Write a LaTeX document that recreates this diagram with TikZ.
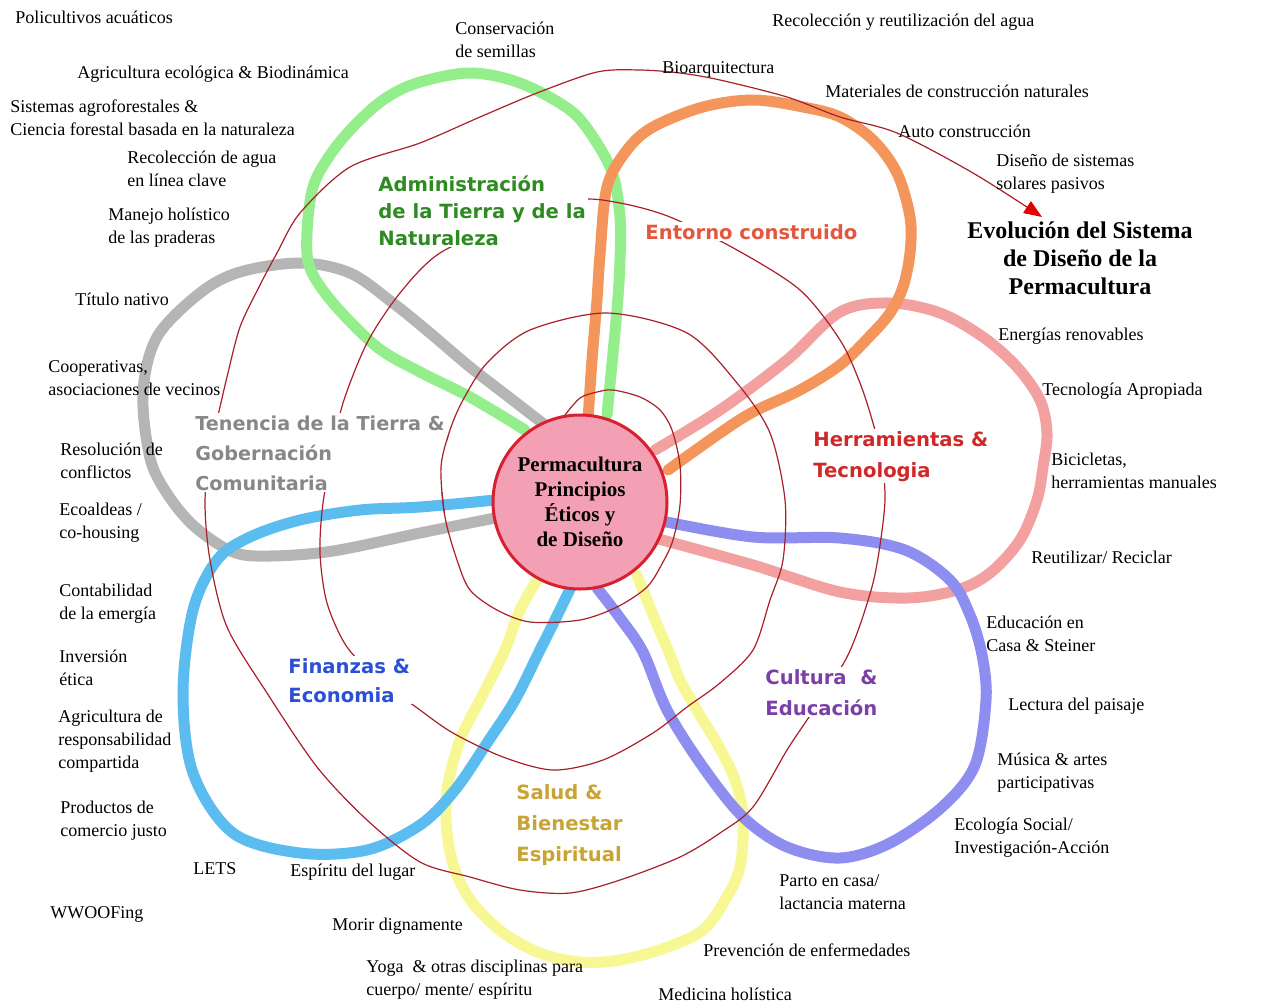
\documentclass[tikz,border=0pt]{standalone}
\usepackage{fontspec}
\setmainfont{Liberation Serif}
\newfontfamily\catfont{DejaVu Sans}
\usetikzlibrary{arrows.meta}
\definecolor{pgreen}{HTML}{94EE8C}
\definecolor{porange}{HTML}{F4955C}
\definecolor{ppink}{HTML}{F2A0A0}
\definecolor{ppurple}{HTML}{8E8EF0}
\definecolor{pyellow}{HTML}{F7F794}
\definecolor{pblue}{HTML}{5BBCF0}
\definecolor{pgrey}{HTML}{B5B5B5}
\definecolor{spiral}{HTML}{A8202A}
\definecolor{tgreen}{HTML}{2E8B22}
\definecolor{torange}{HTML}{E2583E}
\definecolor{tred}{HTML}{D02828}
\definecolor{tgrey}{HTML}{878787}
\definecolor{tblue}{HTML}{2B4FD6}
\definecolor{tpurple}{HTML}{7B40A8}
\definecolor{tyellow}{HTML}{C8A434}
\definecolor{cfill}{HTML}{F4A0B4}
\definecolor{cborder}{HTML}{D82030}
\begin{document}
\begin{tikzpicture}[x=0.5pt,y=-0.5pt,
  lbl/.style={anchor=base west, inner sep=0pt, align=left, font=\fontsize{9}{11.5}\selectfont},
  cat/.style={anchor=base west, inner sep=1pt, fill=white, align=left},
  petal/.style={line width=5.5pt, line cap=round, line join=round},
  spiralline/.style={spiral, line width=0.6pt}]
\fill[white] (0,0) rectangle (1267,1007);
\path[use as bounding box] (0,0) rectangle (1267,1007);

% petals
\draw[petal, pyellow] plot[smooth, tension=0.55] coordinates {(540,575) (520,610) (505,650) (480,700) (460,740) (447,790) (447,833) (455,870) (472,902) (502,932) (540,953) (580,962) (620,960) (665,948) (703,930) (725,900) (740,867) (743,817) (735,780) (718,745) (698,712) (680,680) (668,650) (653,615) (637,575)};
\draw[petal, ppink] plot[smooth, tension=0.55] coordinates {(655,450) (720,410) (787,360) (840,312) (890,303) (940,313) (983,337) (1017,367) (1040,400) (1047,433) (1043,467) (1037,500) (1020,540) (990,573) (957,590) (907,598) (840,592) (753,565) (655,538)};
\draw[petal, ppurple] plot[smooth, tension=0.55] coordinates {(662,521) (753,537) (840,538) (905,550) (950,580) (970,615) (982,655) (986,700) (975,765) (942,807) (890,843) (840,858) (787,847) (743,817) (703,767) (667,710) (643,652) (620,618) (597,588)};
\draw[petal, pgrey] plot[smooth, tension=0.55] coordinates {(495,518) (420,533) (333,551) (270,556) (233,552) (195,527) (168,495) (150,458) (143,393) (157,337) (200,293) (240,272) (300,263) (350,273) (393,303) (430,333) (470,367) (510,398) (545,425)};
\draw[petal, pblue] plot[smooth, tension=0.55] coordinates {(572,585) (555,620) (540,650) (515,700) (487,743) (455,790) (420,825) (367,850) (300,853) (233,833) (193,773) (183,693) (193,610) (217,560) (250,537) (300,520) (360,510) (420,507) (495,500)};
\draw[petal, pgreen] plot[smooth, tension=0.55] coordinates {(525,430) (470,397) (420,372) (377,347) (333,303) (310,268) (307,233) (313,187) (330,155) (353,127) (383,100) (417,83) (470,73) (520,83) (570,110) (595,140) (613,175) (620,217) (620,260) (617,310) (607,415)};
\draw[petal, porange] plot[smooth, tension=0.55] coordinates {(588,420) (592,360) (597,300) (600,255) (607,187) (627,150) (653,127) (703,107) (753,100) (803,107) (840,117) (873,140) (897,173) (910,217) (910,253) (903,287) (890,313) (870,336) (840,365) (800,390) (753,412) (720,433) (668,470)};

% spiral
\coordinate (tip) at (1042,217);
\draw[spiralline, -{Triangle[length=9pt,width=7pt,color=red!90!black]}] plot[smooth, tension=0.5] coordinates {(565,415) (580,398) (597,392) (613,390) (640,397) (660,410) (672,430) (680,465) (680,505) (673,540) (663,562) (647,587) (617,607) (580,620) (530,622) (497,610) (470,590) (457,560) (445,517) (441,467) (450,430) (463,400) (487,363) (530,330) (607,313) (687,333) (737,383) (770,433) (785,500) (783,560) (770,600) (753,650) (720,683) (687,707) (653,733) (603,760) (553,770) (503,757) (453,733) (420,710) (380,680) (347,647) (327,603) (320,553) (323,503) (333,450) (343,403) (367,343) (400,293) (440,253) (510,222) (577,200) (620,203) (670,217) (737,250) (800,290) (840,340) (860,383) (873,423) (882,460) (885,500) (880,545) (873,583) (860,625) (847,657) (827,690) (807,720) (787,750) (753,807) (720,833) (680,857) (620,880) (570,893) (520,890) (470,877) (420,862) (367,820) (317,767) (267,693) (227,627) (210,560) (205,503) (210,450) (220,407) (227,377) (240,327) (260,285) (277,253) (300,213) (350,167) (420,143) (480,117) (537,93) (597,72) (640,70) (680,73) (720,80) (787,97) (840,117) (897,133) (973,173) (tip)};

% category labels (base = last line)
\node[cat, text=tgreen, font=\catfont\bfseries\fontsize{9.8}{13.3}\selectfont] (cadm) at (376,245) {Administración\\de la Tierra y de la\\Naturaleza};
\node[cat, text=torange, font=\catfont\bfseries\fontsize{9.8}{14}\selectfont] (cent) at (643,239) {Entorno construido};
\node[cat, text=tred, font=\catfont\bfseries\fontsize{9.8}{15.5}\selectfont] (cher) at (811,477) {Herramientas \&\\Tecnologia};
\node[cat, text=tgrey, font=\catfont\bfseries\fontsize{9.6}{15}\selectfont] (cten) at (193,490) {Tenencia de la Tierra \&\\Gobernación\\Comunitaria};
\node[cat, text=tblue, font=\catfont\bfseries\fontsize{9.8}{14.5}\selectfont] (cfin) at (286,702) {Finanzas \&\\Economia};
\node[cat, text=tpurple, font=\catfont\bfseries\fontsize{9.8}{15.5}\selectfont] (ccul) at (763,715) {Cultura \ \&\\Educación};
\node[cat, text=tyellow, font=\catfont\bfseries\fontsize{9.8}{15.5}\selectfont] (csal) at (514,861) {Salud \&\\Bienestar\\Espiritual};

% re-expose the inner turn of the spiral beside "Gobernación / Comunitaria"
\begin{scope}
\clip (425,436) rectangle (472,512);
\draw[spiralline] plot[smooth, tension=0.5] coordinates {(497,610) (470,590) (457,560) (445,517) (441,467) (450,430) (463,400) (487,363) (530,330)};
\end{scope}

% centre
\node[circle, minimum size=87pt, inner sep=0pt, fill=cfill, draw=cborder, line width=1.5pt, align=center, font=\bfseries\fontsize{10.5}{12.5}\selectfont] (centre) at (580,502) {Permacultura\\Principios\\Éticos y\\de Diseño};

\node[anchor=base, inner sep=0pt, align=center, font=\bfseries\fontsize{12}{14}\selectfont] (evo) at (1080,294) {Evolución del Sistema\\de Diseño de la\\Permacultura};

% outer labels (base = last line)
\node[lbl] (t1) at (15,23) {Policultivos acuáticos};
\node[lbl] (t2) at (77,78) {Agricultura ecológica \& Biodinámica};
\node[lbl] (t3) at (10,135) {Sistemas agroforestales \&\\Ciencia forestal basada en la naturaleza};
\node[lbl] (t4) at (127,186) {Recolección de agua\\en línea clave};
\node[lbl] (t5) at (108,243) {Manejo holístico\\de las praderas};
\node[lbl] (t6) at (455,57) {Conservación\\de semillas};
\node[lbl] (t7) at (772,26) {Recolección y reutilización del agua};
\node[lbl] (t8) at (662,73) {Bioarquitectura};
\node[lbl] (t9) at (825,97) {Materiales de construcción naturales};
\node[lbl] (t10) at (898,137) {Auto construcción};
\node[lbl] (t11) at (996,189) {Diseño de sistemas\\solares pasivos};
\node[lbl] (t13) at (998,340) {Energías renovables};
\node[lbl] (t14) at (1042,395) {Tecnología Apropiada};
\node[lbl] (t15) at (1051,488) {Bicicletas,\\herramientas manuales};
\node[lbl] (t16) at (1031,563) {Reutilizar/ Reciclar};
\node[lbl] (t17) at (986,651) {Educación en\\Casa \& Steiner};
\node[lbl] (t18) at (1008,710) {Lectura del paisaje};
\node[lbl] (t19) at (997,788) {Música \& artes\\participativas};
\node[lbl] (t20) at (954,853) {Ecología Social/\\Investigación-Acción};
\node[lbl] (t21) at (779,909) {Parto en casa/\\lactancia materna};
\node[lbl] (t22) at (703,956) {Prevención de enfermedades};
\node[lbl] (t23) at (658,1000) {Medicina holística};
\node[lbl] (t24) at (366,995) {Yoga \ \& otras disciplinas para\\cuerpo/ mente/ espíritu};
\node[lbl] (t25) at (332,930) {Morir dignamente};
\node[lbl] (t26) at (290,876) {Espíritu del lugar};
\node[lbl] (t27) at (193,874) {LETS};
\node[lbl] (t28) at (50,918) {WWOOFing};
\node[lbl] (t29) at (60,836) {Productos de\\comercio justo};
\node[lbl] (t30) at (58,768) {Agricultura de\\responsabilidad\\compartida};
\node[lbl] (t31) at (59,685) {Inversión\\ética};
\node[lbl] (t32) at (59,619) {Contabilidad\\de la emergía};
\node[lbl] (t33) at (59,538) {Ecoaldeas /\\co-housing};
\node[lbl] (t34) at (60,478) {Resolución de\\conflictos};
\node[lbl] (t35) at (48,395) {Cooperativas,\\asociaciones de vecinos};
\node[lbl] (t36) at (75,305) {Título nativo};
\end{tikzpicture}
\end{document}
